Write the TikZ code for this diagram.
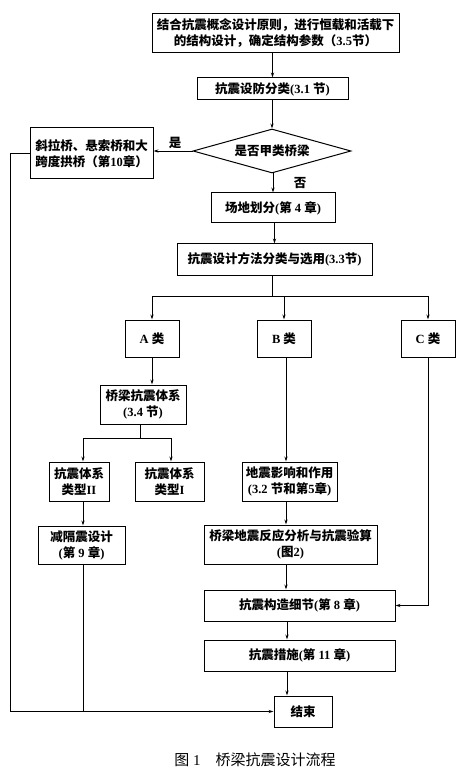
\documentclass[tikz,border=0pt]{standalone}
\usepackage{fontspec}
\setmainfont{Liberation Serif}
\newfontfamily\cjk{Noto Sans CJK SC}
\newcommand\lat[1]{{\rmfamily\bfseries #1}}
\usetikzlibrary{shapes.geometric,arrows.meta}
\begin{document}
\begin{tikzpicture}[x=1pt,y=-1pt,
  box/.style={draw,line width=1pt,inner sep=0pt,align=center,font=\cjk\bfseries\fontsize{12.5}{16}\selectfont},
  dia/.style={draw,line width=1pt,diamond,inner sep=0pt,font=\cjk\bfseries\fontsize{12.5}{16}\selectfont},
  arr/.style={line width=0.8pt,-{Stealth[length=5pt,width=3.2pt]}},
  ln/.style={line width=0.8pt},
  lbl/.style={font=\cjk\bfseries\fontsize{12.5}{16}\selectfont}]
\useasboundingbox (0,0) rectangle (473,775);
\node[box,minimum width=247pt,minimum height=39pt] (b1) at (275.5,33.5) {结合抗震概念设计原则，进行恒载和活载下\\的结构设计，确定结构参数（\lat{3.5}节）};
\node[box,minimum width=151pt,minimum height=22pt] (b2) at (272.5,89) {抗震设防分类\lat{(3.1 }节\lat{)}};
\node[dia,minimum width=158pt,minimum height=44pt,aspect=3.6] (d) at (272,151) {是否甲类桥梁};
\node[box,minimum width=123pt,minimum height=51pt] (lb) at (91.5,153.5) {斜拉桥、悬索桥和大\\跨度拱桥（第\lat{10}章）};
\node[box,minimum width=124pt,minimum height=30pt] (cd) at (273,208) {场地划分\lat{(}第\lat{ 4 }章\lat{)}};
\node[box,minimum width=195pt,minimum height=31pt] (ff) at (274.5,259.5) {抗震设计方法分类与选用\lat{(3.3}节\lat{)}};
\node[box,minimum width=54pt,minimum height=37pt] (A) at (152,338.5) {\lat{A }类};
\node[box,minimum width=54pt,minimum height=37pt] (B) at (284,338.5) {\lat{B }类};
\node[box,minimum width=54pt,minimum height=37pt] (C) at (428,338.5) {\lat{C }类};
\node[box,minimum width=86pt,minimum height=39pt] (tx) at (143,404.5) {桥梁抗震体系\\\lat{(3.4 }节\lat{)}};
\node[box,minimum width=60pt,minimum height=39pt] (t2) at (79,481.5) {抗震体系\\类型\lat{II}};
\node[box,minimum width=69pt,minimum height=39pt] (t1) at (169.5,481.5) {抗震体系\\类型\lat{I}};
\node[box,minimum width=95pt,minimum height=39pt] (dz) at (289.5,481.5) {地震影响和作用\\\lat{(3.2 }节和第\lat{5}章\lat{)}};
\node[box,minimum width=87pt,minimum height=38pt] (jg) at (81.5,545) {减隔震设计\\\lat{(}第\lat{ 9 }章\lat{)}};
\node[box,minimum width=173pt,minimum height=39pt] (fy) at (290.5,544.5) {桥梁地震反应分析与抗震验算\\\lat{(}图\lat{2)}};
\node[box,minimum width=191pt,minimum height=31pt] (gz) at (299.5,605.5) {抗震构造细节\lat{(}第\lat{ 8 }章\lat{)}};
\node[box,minimum width=191pt,minimum height=31pt] (cs) at (299.5,655.5) {抗震措施\lat{(}第\lat{ 11 }章\lat{)}};
\node[box,minimum width=58pt,minimum height=31pt] (end) at (303,711.5) {结束};
\node[lbl] (yes) at (175,143) {是};
\node[lbl] (no) at (300,183) {否};
\node[font=\cjk\fontsize{15}{17}\selectfont] (cap) at (255,760) {图{\rmfamily\ 1}\quad 桥梁抗震设计流程};
\coordinate (col) at (286,0);
\coordinate (trunk) at (272,296);
\coordinate (lx) at (10,0);
\coordinate (split) at (140,438);
% connectors
\draw[arr] (b1.south -| b2.north) -- (b2.north);
\draw[arr] (b2.south -| d.north) -- (d.north);
\draw[arr] (d.west) -- (d.west -| lb.east);
\draw[arr] (d.south -| cd.north) -- (cd.north);
\draw[arr] (cd.south -| ff.south) -- (ff.north);
\draw[ln] (ff.south -| trunk) -- (trunk);
\draw[ln] (trunk -| A) -- (trunk -| C);
\draw[arr] (trunk -| A) -- (A.north);
\draw[arr] (trunk -| B) -- (B.north);
\draw[arr] (trunk -| C) -- (C.north);
\draw[arr] (A.south) -- (A.south |- tx.north);
\draw[ln] (tx.south -| split) -- (split);
\draw[ln] (split -| 83,0) -- (split -| 171,0);
\draw[arr] (split -| 83,0) -- (t2.north -| 83,0);
\draw[arr] (split -| 171,0) -- (t1.north -| 171,0);
\draw[arr] (t2.south -| 83,0) -- (jg.north -| 83,0);
\draw[arr] (B.south -| col) -- (dz.north -| col);
\draw[arr] (dz.south -| col) -- (fy.north -| col);
\draw[arr] (fy.south -| col) -- (gz.north -| col);
\draw[arr] (C.south) |- (gz.east);
\draw[arr] (gz.south -| 287,0) -- (cs.north -| 287,0);
\draw[arr] (cs.south -| 287,0) -- (end.north -| 287,0);
\draw[arr] (lb.west) -- (lb.west -| lx) -- (end.west -| lx) -- (end.west);
\draw[ln] (jg.south -| 83,0) -- (end.west -| 83,0);
\end{tikzpicture}
\end{document}
